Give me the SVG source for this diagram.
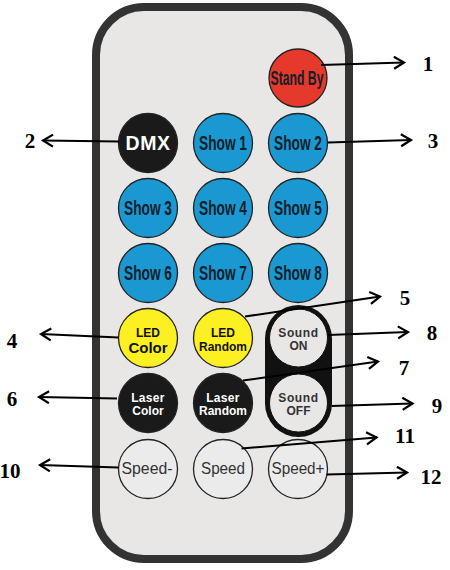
<svg xmlns="http://www.w3.org/2000/svg" width="450" height="570" viewBox="0 0 450 570">
<defs>
<marker id="ah" markerUnits="userSpaceOnUse" markerWidth="14" markerHeight="16" refX="11" refY="7" orient="auto">
<path d="M1,1 L11,7 L1,13" fill="none" stroke="#000" stroke-width="2.2" stroke-linejoin="miter"/>
</marker>
<style>
.btn{stroke:#222;stroke-width:1.3}
.blue{fill:#1a98d2}
.cond{font-family:"Liberation Sans",Arial,sans-serif;font-size:20px;font-weight:bold;fill:#13202a;text-anchor:middle}
.b12{font-family:"Liberation Sans",Arial,sans-serif;font-weight:bold;font-size:12px;text-anchor:middle}
.b15{font-family:"Liberation Sans",Arial,sans-serif;font-weight:bold;font-size:15px;text-anchor:middle}
.spd{font-family:"Liberation Sans",Arial,sans-serif;font-size:16px;fill:#333;text-anchor:middle}
.num{font-family:"Liberation Serif","Times New Roman",serif;font-weight:bold;font-size:21px;fill:#000;text-anchor:middle}
.arr{stroke:#000;stroke-width:2;fill:none;marker-end:url(#ah)}
</style>
</defs>
<rect x="0" y="0" width="450" height="570" fill="#fff"/>
<rect id="remote" x="96" y="7" width="253" height="552" rx="48" fill="#e8e7e6" stroke="#333" stroke-width="8"/>

<g id="standby"><circle class="btn" cx="298" cy="78" r="29" fill="#e5392c"/><text class="cond" x="297" y="85" textLength="53" lengthAdjust="spacingAndGlyphs">Stand By</text></g>
<g id="dmx"><circle class="btn" cx="148" cy="143" r="29.5" fill="#1a1a1a"/><text x="148" y="150" text-anchor="middle" font-family="Liberation Sans,Arial,sans-serif" font-weight="bold" font-size="19.5" fill="#fff" letter-spacing="0.5">DMX</text></g>
<g id="show1"><circle class="btn blue" cx="223" cy="143" r="29.5"/><text class="cond" x="223" y="150" textLength="48" lengthAdjust="spacingAndGlyphs">Show 1</text></g>
<g id="show2"><circle class="btn blue" cx="298" cy="143" r="29.5"/><text class="cond" x="298" y="150" textLength="48" lengthAdjust="spacingAndGlyphs">Show 2</text></g>
<g id="show3"><circle class="btn blue" cx="148" cy="208" r="29.5"/><text class="cond" x="148" y="215" textLength="48" lengthAdjust="spacingAndGlyphs">Show 3</text></g>
<g id="show4"><circle class="btn blue" cx="223" cy="208" r="29.5"/><text class="cond" x="223" y="215" textLength="48" lengthAdjust="spacingAndGlyphs">Show 4</text></g>
<g id="show5"><circle class="btn blue" cx="298" cy="208" r="29.5"/><text class="cond" x="298" y="215" textLength="48" lengthAdjust="spacingAndGlyphs">Show 5</text></g>
<g id="show6"><circle class="btn blue" cx="148" cy="273" r="29.5"/><text class="cond" x="148" y="280" textLength="48" lengthAdjust="spacingAndGlyphs">Show 6</text></g>
<g id="show7"><circle class="btn blue" cx="223" cy="273" r="29.5"/><text class="cond" x="223" y="280" textLength="48" lengthAdjust="spacingAndGlyphs">Show 7</text></g>
<g id="show8"><circle class="btn blue" cx="298" cy="273" r="29.5"/><text class="cond" x="298" y="280" textLength="48" lengthAdjust="spacingAndGlyphs">Show 8</text></g>

<g id="ledcolor"><circle class="btn" cx="148" cy="338" r="29.5" fill="#fdf022"/><text class="b12" x="148" y="337" fill="#111">LED</text><text class="b15" x="148" y="352.5" fill="#111">Color</text></g>
<g id="ledrandom"><circle class="btn" cx="223" cy="338" r="29.5" fill="#fdf022"/><text class="b12" x="223" y="337" fill="#111">LED</text><text class="b12" x="223" y="351" fill="#111">Random</text></g>
<g id="sound">
<rect x="265" y="305" width="67" height="132" rx="33.5" fill="#111"/>
<g id="soundon"><circle cx="298.5" cy="338" r="29" fill="#e8e7e6" stroke="#111" stroke-width="1"/><text class="b12" x="298.5" y="337" fill="#333" letter-spacing="0.6">Sound</text><text class="b12" x="298.5" y="350" fill="#333">ON</text></g>
<g id="soundoff"><circle cx="298.5" cy="403" r="29" fill="#e8e7e6" stroke="#111" stroke-width="1"/><text class="b12" x="298.5" y="401.5" fill="#333" letter-spacing="0.6">Sound</text><text class="b12" x="298.5" y="415" fill="#333">OFF</text></g>
</g>
<g id="lasercolor"><circle class="btn" cx="148" cy="403" r="29.5" fill="#1a1a1a"/><text class="b12" x="148" y="401.5" fill="#fff" letter-spacing="0.3">Laser</text><text class="b12" x="148" y="415" fill="#fff">Color</text></g>
<g id="laserrandom"><circle class="btn" cx="223" cy="403" r="29.5" fill="#1a1a1a"/><text class="b12" x="223" y="401.5" fill="#fff" letter-spacing="0.3">Laser</text><text class="b12" x="223" y="415" fill="#fff">Random</text></g>

<g id="speedminus"><circle cx="148" cy="469" r="29.5" fill="#ebebeb" stroke="#222" stroke-width="1.3"/><text class="spd" x="147" y="473.5" textLength="51" lengthAdjust="spacingAndGlyphs">Speed-</text></g>
<g id="speed"><circle cx="223" cy="469" r="29.5" fill="#ebebeb" stroke="#222" stroke-width="1.3"/><text class="spd" x="223" y="473.5" textLength="44" lengthAdjust="spacingAndGlyphs">Speed</text></g>
<g id="speedplus"><circle cx="298" cy="469" r="29.5" fill="#ebebeb" stroke="#222" stroke-width="1.3"/><text class="spd" x="298" y="473.5" textLength="53" lengthAdjust="spacingAndGlyphs">Speed+</text></g>

<g id="connectors">
<line class="arr" x1="321" y1="65" x2="404" y2="62.5"/>
<line class="arr" x1="119" y1="141.5" x2="43" y2="140.5"/>
<line class="arr" x1="328" y1="142.5" x2="411" y2="140"/>
<line class="arr" x1="245" y1="316.5" x2="380" y2="296.5"/>
<line class="arr" x1="118.5" y1="337.5" x2="41" y2="334"/>
<line class="arr" x1="328" y1="335" x2="408" y2="332"/>
<line class="arr" x1="243" y1="380.5" x2="378" y2="361.5"/>
<line class="arr" x1="117" y1="398.5" x2="39" y2="397"/>
<line class="arr" x1="331.5" y1="406" x2="412.5" y2="403.5"/>
<line class="arr" x1="241.5" y1="448.5" x2="376.5" y2="437.5"/>
<line class="arr" x1="118.5" y1="467.5" x2="40" y2="465"/>
<line class="arr" x1="326.5" y1="474.5" x2="407" y2="472.5"/>
</g>

<g id="labels">
<text class="num" x="428" y="71">1</text>
<text class="num" x="30" y="147.5">2</text>
<text class="num" x="433" y="148">3</text>
<text class="num" x="12" y="348">4</text>
<text class="num" x="405" y="305">5</text>
<text class="num" x="12" y="406">6</text>
<text class="num" x="404" y="375">7</text>
<text class="num" x="432" y="340">8</text>
<text class="num" x="437" y="413">9</text>
<text class="num" x="10" y="478">10</text>
<text class="num" x="405" y="443">11</text>
<text class="num" x="431" y="484">12</text>
</g>
</svg>
